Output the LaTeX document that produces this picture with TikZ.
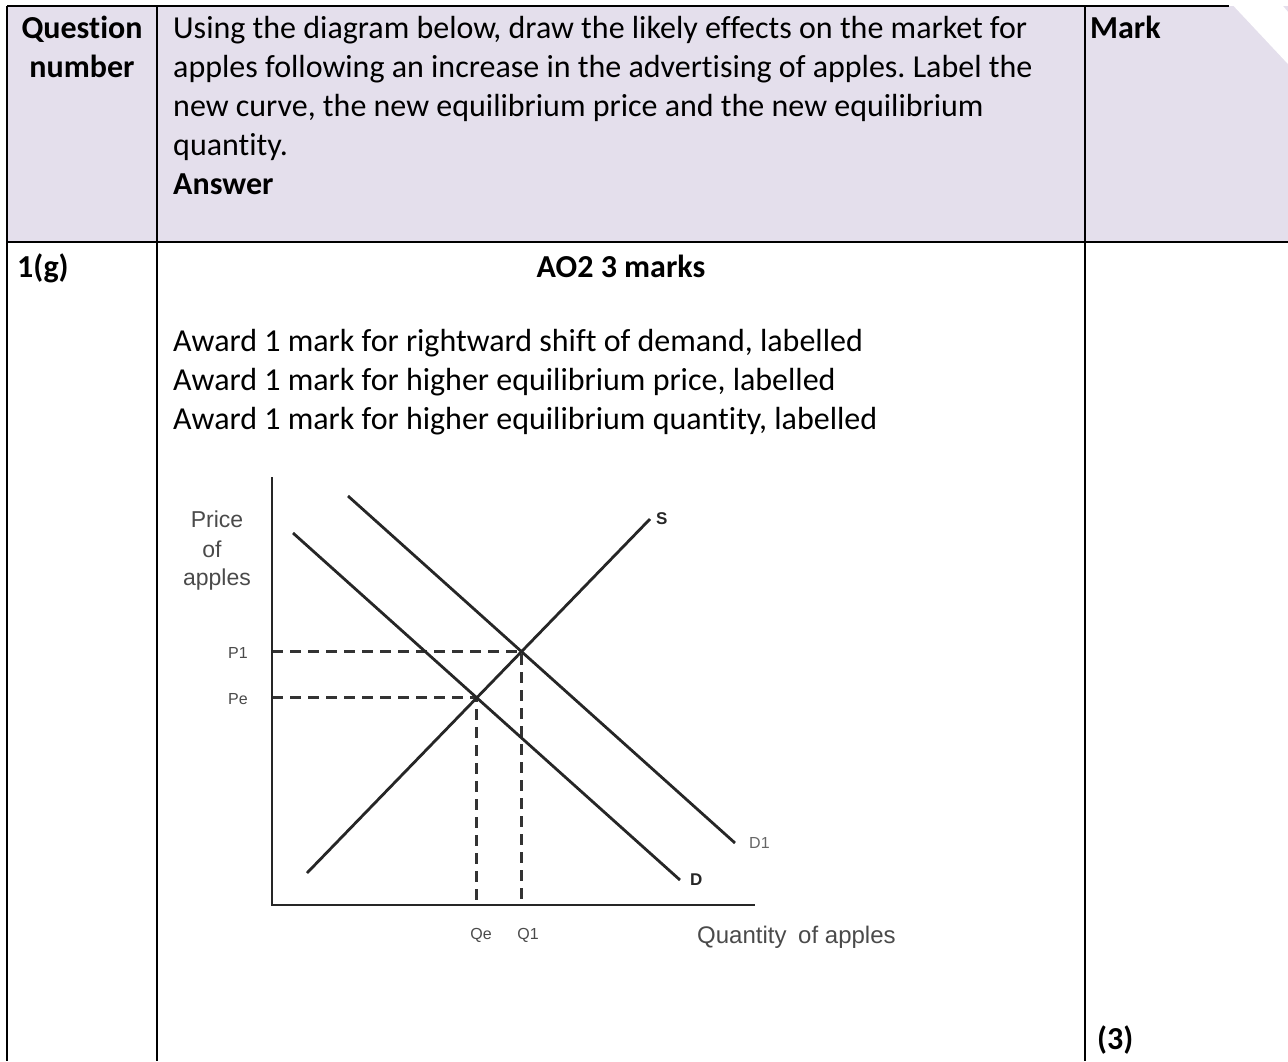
\documentclass[tikz,border=0pt]{standalone}
\usepackage{fontspec}
\setmainfont{Carlito}[Ligatures={NoCommon}]
\newfontfamily\graphfont{Liberation Sans}
\definecolor{headfill}{HTML}{E4DFEC}
\definecolor{inkgrey}{HTML}{4A4A4A}
\frenchspacing
\tikzset{
  rule/.style={line width=2.4pt},
  body/.style={font=\fontsize{32}{39}\selectfont, anchor=base west, inner sep=0pt},
  bodybold/.style={body, font=\fontsize{32}{39}\selectfont\bfseries},
  axisline/.style={line width=2.8pt, color=black!85},
  curve/.style={line width=2.8pt, color=black!85},
  guide/.style={line width=2.8pt, dash pattern=on 11pt off 7pt, color=black!80},
  axislabel/.style={font=\graphfont\fontsize{23}{26}\selectfont, text=inkgrey, inner sep=0pt, anchor=base},
  ticklabel/.style={font=\graphfont\fontsize{16}{18}\selectfont, text=inkgrey, inner sep=0pt},
  curvelabel/.style={font=\graphfont\bfseries\fontsize{17}{19}\selectfont, text=black!85, inner sep=0pt},
}
\begin{document}
\begin{tikzpicture}[x=1pt,y=-1pt]

\useasboundingbox (0,0) rectangle (1288,1061);

\fill[headfill] (7,6) rectangle (1288,242);
\fill[white] (1228,0) -- (1278,0) -- (1288,12) -- (1288,64) -- cycle;

\draw[rule] (7,6) -- (1229,6);
\draw[rule] (7,242) -- (1288,242);
\foreach \x in {7,157,1085}
{
\draw[rule] (\x,6) -- (\x,1061);
}

\node[bodybold, anchor=base] (qtitle) at (82,38) {Question};
\node[bodybold, anchor=base] (qnum) at (82,77) {number};
\node[body] (qline1) at (173,38) {Using the diagram below, draw the likely effects on the market for};
\node[body] (qline2) at (173,77) {apples following an increase in the advertising of apples. Label the};
\node[body] (qline3) at (173,116) {new curve, the new equilibrium price and the new equilibrium};
\node[body] (qline4) at (173,155) {quantity.};
\node[bodybold] (answer) at (173,194) {Answer};
\node[bodybold] (mark) at (1090,38) {Mark};

\node[bodybold] (qid) at (17,277) {1(g)};
\node[bodybold, anchor=base] (aotwo) at (621,277) {AO2 3 marks};
\node[body] (award1) at (173,351) {Award 1 mark for rightward shift of demand, labelled};
\node[body] (award2) at (173,390) {Award 1 mark for higher equilibrium price, labelled};
\node[body] (award3) at (173,429) {Award 1 mark for higher equilibrium quantity, labelled};
\node[bodybold] (total) at (1097,1049) {(3)};

\coordinate (o) at (272,905);
\coordinate (ytop) at (272,477);
\coordinate (xend) at (755,905);
\coordinate (d0) at (293,533);
\coordinate (d1) at (680,880);
\coordinate (e0) at (348,496);
\coordinate (e1) at (735,843);
\coordinate (s0) at (307,873);
\coordinate (s1) at (650,519);
\coordinate (pe) at (intersection of d0--d1 and s0--s1);
\coordinate (pone) at (intersection of e0--e1 and s0--s1);

\draw[guide] (pe -| o) -- (pe) -- (pe |- o);
\draw[guide] (pone -| o) -- (pone) -- (pone |- o);

\draw[axisline] (ytop) -- (o) -- (xend);
\draw[curve] (d0) -- (d1);
\draw[curve] (e0) -- (e1);
\draw[curve] (s0) -- (s1);

\node[axislabel] (ylab1) at (217,527) {Price};
\node[axislabel] (ylab2) at (212,557) {of};
\node[axislabel] (ylab3) at (217,585) {apples};
\node[axislabel, anchor=base west, font=\graphfont\fontsize{24}{27}\selectfont] (xlab) at (697,943) {Quantity\hspace{5pt} of apples};

\node[ticklabel] (plabone) at (238,653) {P1};
\node[ticklabel] (plabe) at (238,699) {Pe};
\node[ticklabel] (qlabe) at (481,935) {Qe};
\node[ticklabel] (qlabone) at (528,935) {Q1};

\node[curvelabel, right, xshift=6pt] (slab) at (s1) {S};
\node[curvelabel, right, xshift=10pt] (dlab) at (d1) {D};
\node[ticklabel, right, xshift=14pt, text=black!60] (donelab) at (e1) {D1};

\end{tikzpicture}
\end{document}
